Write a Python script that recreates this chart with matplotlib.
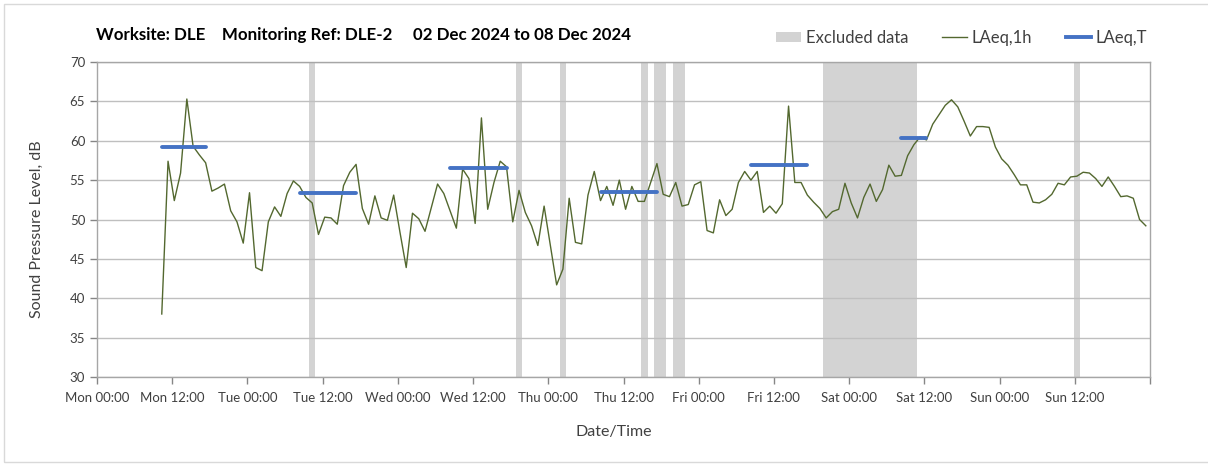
import matplotlib
matplotlib.use("Agg")
import matplotlib.pyplot as plt
import matplotlib.dates as mdates
from matplotlib.patches import Patch, Rectangle
from matplotlib.lines import Line2D
import pandas as pd

# Hourly LAeq,1h values, first record Mon 02 Dec 2024 10:20
first_record = "2024-12-02 10:20"
laeq_1h = [
    38.0, 57.4, 52.4, 55.9, 65.3, 59.3, 58.2, 57.2, 53.6, 54.0,
    54.5, 51.1, 49.7, 47.0, 53.4, 43.9, 43.5, 49.7, 51.6, 50.4,
    53.3, 54.9, 54.2, 52.8, 52.1, 48.1, 50.3, 50.2, 49.4, 54.3,
    56.0, 57.0, 51.4, 49.4, 53.0, 50.2, 49.9, 53.1, 48.4, 43.9,
    50.8, 50.1, 48.5, 51.5, 54.5, 53.3, 51.1, 48.9, 56.4, 55.2,
    49.5, 62.9, 51.3, 54.7, 57.4, 56.7, 49.7, 53.7, 50.9, 49.2,
    46.7, 51.7, 46.7, 41.7, 43.7, 52.7, 47.1, 46.9, 53.1, 56.1,
    52.4, 54.2, 51.8, 55.0, 51.3, 54.2, 52.3, 52.3, 54.7, 57.1,
    53.2, 52.9, 54.7, 51.7, 51.9, 54.4, 54.8, 48.6, 48.3, 52.5,
    50.5, 51.3, 54.7, 56.1, 55.0, 56.1, 50.9, 51.7, 50.8, 52.0,
    64.4, 54.7, 54.7, 53.1, 52.2, 51.4, 50.2, 51.0, 51.3, 54.6,
    52.1, 50.2, 52.8, 54.5, 52.3, 53.8, 56.9, 55.5, 55.6, 58.1,
    59.5, 60.5, 60.1, 62.1, 63.3, 64.5, 65.2, 64.3, 62.5, 60.6,
    61.8, 61.8, 61.7, 59.2, 57.7, 56.9, 55.7, 54.4, 54.4, 52.2,
    52.1, 52.5, 53.2, 54.6, 54.4, 55.4, 55.5, 56.0, 55.9, 55.2,
    54.2, 55.4, 54.2, 52.9, 53.0, 52.7, 50.0, 49.2,
]

# LAeq,T working periods (first record, last record, level)
laeq_t_start = ["2024-12-02 10:20", "2024-12-03 08:20", "2024-12-04 08:20",
                "2024-12-05 08:20", "2024-12-06 08:20", "2024-12-07 08:20"]
laeq_t_end = ["2024-12-02 17:20", "2024-12-03 17:20", "2024-12-04 17:20",
              "2024-12-05 17:20", "2024-12-06 17:20", "2024-12-07 12:20"]
laeq_t = [59.2, 53.4, 56.5, 53.5, 56.9, 60.3]

# Excluded records (first, last)
excl_first = ["2024-12-03 10:20", "2024-12-04 19:20", "2024-12-05 02:20",
              "2024-12-05 15:20", "2024-12-05 17:20", "2024-12-05 20:20",
              "2024-12-06 20:20", "2024-12-08 12:20"]
excl_last = ["2024-12-03 10:20", "2024-12-04 19:20", "2024-12-05 02:20",
             "2024-12-05 15:20", "2024-12-05 18:20", "2024-12-05 21:20",
             "2024-12-07 10:20", "2024-12-08 12:20"]

times = pd.date_range(first_record, periods=len(laeq_1h), freq="h")
half = pd.Timedelta(minutes=30)

green = "#53682F"
blue = "#4472C4"
grey = "#D3D3D3"

fig = plt.figure(figsize=(12.08, 4.65), dpi=100)
plt.rcParams["font.family"] = ["Lato", "DejaVu Sans"]
ax = fig.add_axes([97 / 1208, 1 - 377 / 465, (1150 - 97) / 1208, (377 - 62) / 465])

# chart area border
fig.patches.append(Rectangle((4 / 1208, 3 / 465), 1.2, 1 - 7 / 465, transform=fig.transFigure,
                             fill=False, edgecolor="#D9D9D9", lw=1.0))

for a, b in zip(excl_first, excl_last):
    ax.axvspan(pd.Timestamp(a) - half, pd.Timestamp(b) + half, color=grey, lw=0, zorder=0.2)

ax.plot(times, laeq_1h, color=green, lw=1.0, zorder=2)
for s, e, v in zip(laeq_t_start, laeq_t_end, laeq_t):
    ax.plot([pd.Timestamp(s), pd.Timestamp(e)], [v, v], color=blue, lw=2.8,
            solid_capstyle="round", zorder=3)

ax.set_ylim(30, 70)
ax.set_yticks(range(30, 71, 5))
ax.set_xlim(pd.Timestamp("2024-12-02 00:00"), pd.Timestamp("2024-12-09 00:00"))

xt = pd.date_range("2024-12-02 00:00", "2024-12-09 00:00", freq="12h")
ax.set_xticks(xt)
ax.set_xticklabels([t.strftime("%a %H:%M") for t in xt[:-1]] + [""])
ax.xaxis.set_minor_locator(mdates.DayLocator())

ax.set_axisbelow(True)
ax.grid(axis="y", which="major", color="#BFBFBF", lw=1.0)
ax.grid(axis="x", which="minor", color="#E0E0E0", lw=1.0)
ax.tick_params(axis="x", which="minor", length=0)
ax.tick_params(axis="both", which="major", colors="#868686", labelcolor="#404040",
               labelsize=9.5, length=5, width=1)
ax.tick_params(axis="x", pad=6)
for sp in ax.spines.values():
    sp.set_color("#A6A6A6")
    sp.set_linewidth(1.0)

fig.text(96 / 1208, 1 - 35 / 465,
         "Worksite: DLE    Monitoring Ref: DLE-2     02 Dec 2024 to 08 Dec 2024",
         fontsize=12.2, fontweight="bold", ha="left", va="center", color="#000000")
fig.text(37 / 1208, 1 - 229 / 465, "Sound Pressure Level, dB", rotation=90,
         fontsize=11.5, ha="center", va="center", color="#404040")
fig.text(614 / 1208, 1 - 432 / 465, "Date/Time", fontsize=11.5,
         ha="center", va="center", color="#404040")

handles = [Patch(facecolor=grey, edgecolor="none"),
           Line2D([], [], color=green, lw=1.0),
           Line2D([], [], color=blue, lw=2.8)]
fig.legend(handles, ["Excluded data", "LAeq,1h", "LAeq,T"], loc="center left",
           bbox_to_anchor=(761 / 1208, 1 - 38 / 465), ncol=3, frameon=False,
           fontsize=12, handlelength=1.5, handleheight=0.6, handletextpad=0.3,
           columnspacing=2.0, labelcolor="#404040")

fig.savefig("out.png", dpi=100)
